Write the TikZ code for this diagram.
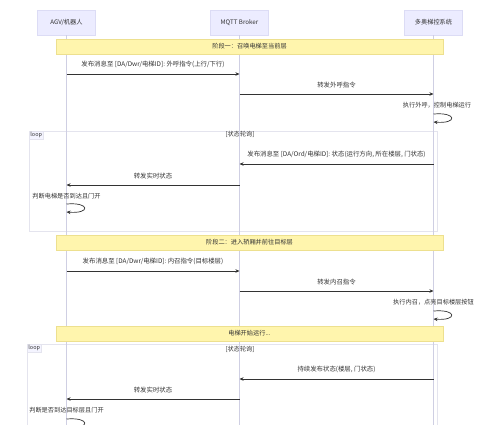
\documentclass[tikz,border=0pt]{standalone}
\usepackage{fontspec}
\setmainfont{Noto Sans CJK SC}
\usetikzlibrary{arrows.meta,positioning}
\definecolor{actorfill}{HTML}{ECECFF}
\definecolor{actorline}{HTML}{DCDCF5}
\definecolor{notefill}{HTML}{FFF5AD}
\definecolor{noteline}{HTML}{EDE08F}
\definecolor{lifecol}{HTML}{CFCFE3}
\definecolor{msgcol}{HTML}{333333}
\definecolor{framecol}{HTML}{E4E4EE}

\tikzset{
	actor/.style={draw=actorline, fill=actorfill, minimum width=58pt, minimum height=25pt, inner sep=1pt, font=\fontsize{6.2}{7}\selectfont, text=msgcol},
	lifeline/.style={draw=lifecol, line width=0.6pt},
	notebox/.style={draw=noteline, fill=notefill, line width=0.5pt},
	notetext/.style={font=\fontsize{6.2}{7}\selectfont, text=msgcol},
	frame/.style={draw=framecol, line width=0.7pt},
	looptag/.style={fill=actorfill!60, draw=framecol, inner sep=1.2pt, font=\fontsize{5.5}{6}\selectfont, text=msgcol},
	msg/.style={draw=msgcol, line width=0.7pt, -{Stealth[length=4pt,width=3.5pt]}},
	lbl/.style={above=4.5pt, inner sep=1pt, font=\fontsize{6.4}{7}\selectfont, text=msgcol},
	selflbl/.style={inner sep=1pt, font=\fontsize{6.2}{7}\selectfont, text=msgcol}
}

\begin{document}
\begin{tikzpicture}[x=1pt, y=-1pt]
	\useasboundingbox (0,0) rectangle (500,424);
	% participants
	\begin{scope}[every node/.style={actor}]
		\node (agv) at (66.5,22.5) {AGV/机器人};
		\node (mqtt) at (239.5,22.5) {MQTT Broker};
		\node (ctrl) at (433.5,22.5) {多奥梯控系统};
	\end{scope}
	\coordinate (agv-e) at (agv |- 0,440);
	\coordinate (mqtt-e) at (mqtt |- 0,440);
	\coordinate (ctrl-e) at (ctrl |- 0,440);
	
	% loop frames
	\draw[frame] (29,131) rectangle (437,231);
	\node[looptag, anchor=north west] (tag1) at (29,131) {loop};
	\node[notetext] (cond1) at (240,134.5) {[状态轮询]};
	\draw[frame] (27,344) rectangle (437,440);
	\node[looptag, anchor=north west] (tag2) at (27,344) {loop};
	\node[notetext] (cond2) at (240,349) {[状态轮询]};
	
	% lifelines
	\draw[lifeline] (agv) -- (agv-e);
	\draw[lifeline] (mqtt) -- (mqtt-e);
	\draw[lifeline] (ctrl) -- (ctrl-e);
	
	% notes
	\draw[notebox] (56,39) rectangle (443,54);
	\node[notetext] (note1) at (249.5,46.5) {阶段一：召唤电梯至当前层};
	\draw[notebox] (56,235) rectangle (443,250);
	\node[notetext] (note2) at (249.5,242.5) {阶段二：进入轿厢并前往目标层};
	\draw[notebox] (56,326) rectangle (443,341);
	\node[notetext] (note3) at (249.5,333.5) {电梯开始运行...};
	
	% phase one
	\path (agv |- 0,74) coordinate (m1a) (mqtt |- 0,74) coordinate (m1b);
	\draw[msg] (m1a) -- node[lbl] {发布消息至 [DA/Dwr/电梯ID]: 外呼指令(上行/下行)} (m1b);
	\path (mqtt |- 0,94) coordinate (m2a) (ctrl |- 0,94) coordinate (m2b);
	\draw[msg] (m2a) -- node[lbl] {转发外呼指令} (m2b);
	\path (ctrl |- 0,114) coordinate (s1a) (ctrl |- 0,122) coordinate (s1b);
	\node[selflbl] (s1t) at (437,105.5) {执行外呼，控制电梯运行};
	\draw[msg] (s1a) .. controls +(24,-2) and +(24,2) .. (s1b);
	
	\path (ctrl |- 0,164) coordinate (m3a) (mqtt |- 0,164) coordinate (m3b);
	\draw[msg] (m3a) -- node[lbl] {发布消息至 [DA/Ord/电梯ID]: 状态(运行方向, 所在楼层, 门状态)} (m3b);
	\path (mqtt |- 0,185) coordinate (m4a) (agv |- 0,185) coordinate (m4b);
	\draw[msg] (m4a) -- node[lbl] {转发实时状态} (m4b);
	\path (agv |- 0,204) coordinate (s2a) (agv |- 0,212) coordinate (s2b);
	\node[selflbl] (s2t) at (66.5,196.5) {判断电梯是否到达且门开};
	\draw[msg] (s2a) .. controls +(24,-2) and +(24,2) .. (s2b);
	
	% phase two
	\path (agv |- 0,271) coordinate (m5a) (mqtt |- 0,271) coordinate (m5b);
	\draw[msg] (m5a) -- node[lbl] {发布消息至 [DA/Dwr/电梯ID]: 内召指令(目标楼层)} (m5b);
	\path (mqtt |- 0,291) coordinate (m6a) (ctrl |- 0,291) coordinate (m6b);
	\draw[msg] (m6a) -- node[lbl] {转发内召指令} (m6b);
	\path (ctrl |- 0,311) coordinate (s3a) (ctrl |- 0,319) coordinate (s3b);
	\node[selflbl] (s3t) at (433.5,302) {执行内召，点亮目标楼层按钮};
	\draw[msg] (s3a) .. controls +(24,-2) and +(24,2) .. (s3b);
	
	\path (ctrl |- 0,379) coordinate (m7a) (mqtt |- 0,379) coordinate (m7b);
	\draw[msg] (m7a) -- node[lbl] {持续发布状态(楼层, 门状态)} (m7b);
	\path (mqtt |- 0,399) coordinate (m8a) (agv |- 0,399) coordinate (m8b);
	\draw[msg] (m8a) -- node[lbl] {转发实时状态} (m8b);
	\path (agv |- 0,419) coordinate (s4a) (agv |- 0,427) coordinate (s4b);
	\node[selflbl] (s4t) at (66.5,410.5) {判断是否到达目标层且门开};
	\draw[msg] (s4a) .. controls +(24,-2) and +(24,2) .. (s4b);
\end{tikzpicture}
\end{document}
